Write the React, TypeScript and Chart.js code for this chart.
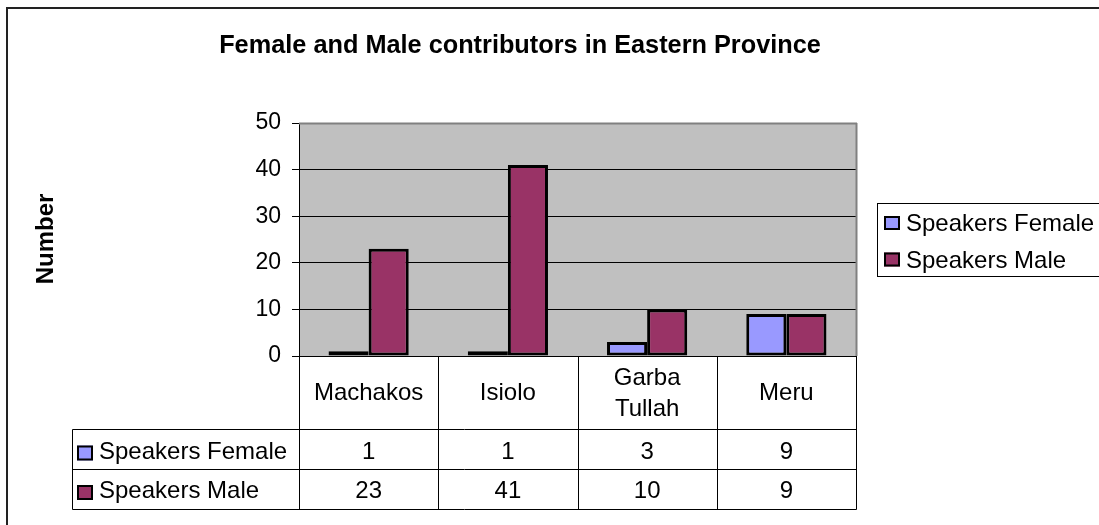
import { useEffect, useRef } from "react";
import { Chart, registerables } from "chart.js";

Chart.register(...registerables);

const chartTitle = "Female and Male contributors in Eastern Province";
const yAxisTitle = "Number";
const categories = ["Machakos", "Isiolo", "Garba Tullah", "Meru"];
const seriesNames = ["Speakers Female", "Speakers Male"];
const femaleValues = [1, 1, 3, 9];
const maleValues = [23, 41, 10, 9];
const yTickValues = [0, 10, 20, 30, 40, 50];
const seriesColors = ["#9999FF", "#993366"];

const FONT = '"Liberation Sans", Arial, Helvetica, sans-serif';

const seriesValues = [femaleValues, maleValues];

function wrapText(ctx: CanvasRenderingContext2D, text: string, maxW: number): string[] {
  const words = text.split(" ");
  const lines: string[] = [];
  let cur = "";
  for (const w of words) {
    const test = cur ? cur + " " + w : w;
    if (cur && ctx.measureText(test).width > maxW) {
      lines.push(cur);
      cur = w;
    } else {
      cur = test;
    }
  }
  if (cur) lines.push(cur);
  return lines;
}

function swatch(ctx: CanvasRenderingContext2D, x: number, y: number, w: number, h: number, color: string) {
  ctx.fillStyle = color;
  ctx.fillRect(x, y, w, h);
  ctx.strokeStyle = "#000";
  ctx.lineWidth = 2;
  ctx.strokeRect(x + 1, y + 1, w - 2, h - 2);
}

const decorPlugin = {
  id: "decor",
  beforeDraw(chart: any) {
    const ctx: CanvasRenderingContext2D = chart.ctx;
    const { left, top, right, bottom } = chart.chartArea;
    ctx.save();
    ctx.fillStyle = "#ffffff";
    ctx.fillRect(0, 0, chart.width, chart.height);
    ctx.fillStyle = "#C0C0C0";
    ctx.fillRect(left, top, right - left, bottom - top);
    ctx.restore();
  },
  afterDraw(chart: any) {
    const ctx: CanvasRenderingContext2D = chart.ctx;
    const { left, top, right, bottom } = chart.chartArea;
    const xs = chart.scales.x;
    ctx.save();

    // plot border (top / right gray)
    ctx.strokeStyle = "#808080";
    ctx.lineWidth = 2;
    ctx.beginPath();
    ctx.moveTo(left, top + 0.5);
    ctx.lineTo(right + 1, top + 0.5);
    ctx.moveTo(right + 0.5, top);
    ctx.lineTo(right + 0.5, bottom);
    ctx.stroke();

    // outer border
    ctx.strokeStyle = "#222";
    ctx.lineWidth = 2;
    ctx.strokeRect(7, 8, 1300, 700);

    // title
    ctx.fillStyle = "#000";
    ctx.font = `bold 25.3px ${FONT}`;
    ctx.textAlign = "center";
    ctx.textBaseline = "alphabetic";
    ctx.fillText(chartTitle, 520, 53);

    // y axis title
    ctx.save();
    ctx.translate(53, 239);
    ctx.rotate(-Math.PI / 2);
    ctx.font = `bold 24px ${FONT}`;
    ctx.textAlign = "center";
    ctx.fillText(yAxisTitle, 0, 0);
    ctx.restore();

    // legend
    ctx.strokeStyle = "#000";
    ctx.lineWidth = 1;
    ctx.strokeRect(877.5, 203.5, 400, 73);
    ctx.font = `24px ${FONT}`;
    ctx.textAlign = "left";
    const legendBase = [231, 267.5];
    seriesNames.forEach((name, i) => {
      swatch(ctx, 884, legendBase[i] - 15, 16, 14, seriesColors[i]);
      ctx.fillStyle = "#000";
      ctx.fillText(name, 906, legendBase[i]);
    });

    // data table
    const n = categories.length;
    const cw = (right - left) / n;
    const tableLeft = 72.5;
    const rowLines = [429.5, 469.5, 509.5];
    ctx.strokeStyle = "#000";
    ctx.lineWidth = 1;
    ctx.beginPath();
    rowLines.forEach((y) => {
      ctx.moveTo(tableLeft, y);
      ctx.lineTo(right + 0.5, y);
    });
    ctx.moveTo(tableLeft, rowLines[0]);
    ctx.lineTo(tableLeft, rowLines[2]);
    for (let i = 0; i <= n; i++) {
      const x = Math.round(left + i * cw) + 0.5;
      ctx.moveTo(x, bottom);
      ctx.lineTo(x, rowLines[2]);
    }
    ctx.stroke();

    ctx.font = `24px ${FONT}`;
    ctx.fillStyle = "#000";
    ctx.textAlign = "center";
    categories.forEach((cat, i) => {
      const cx = xs.getPixelForValue(i);
      const lines = wrapText(ctx, cat, cw - 12);
      lines.forEach((ln, k) => {
        const y = 400 + (k - (lines.length - 1) / 2) * 31;
        ctx.fillText(ln, cx, y);
      });
    });

    const rowBase = [458.5, 498];
    seriesNames.forEach((name, r) => {
      swatch(ctx, 77, rowBase[r] - 13, 16, 15, seriesColors[r]);
      ctx.fillStyle = "#000";
      ctx.textAlign = "left";
      ctx.fillText(name, 99, rowBase[r]);
      ctx.textAlign = "center";
      seriesValues[r].forEach((v, i) => {
        ctx.fillText(String(v), xs.getPixelForValue(i), rowBase[r]);
      });
    });

    ctx.restore();
  },
};

export default function App() {
  const canvasRef = useRef<HTMLCanvasElement | null>(null);

  useEffect(() => {
    if (!canvasRef.current) return;
    Chart.defaults.font.family = FONT;
    const chart = new Chart(canvasRef.current, {
      type: "bar",
      data: {
        labels: categories,
        datasets: seriesNames.map((name, i) => ({
          label: name,
          data: seriesValues[i],
          backgroundColor: seriesColors[i],
          borderColor: "#000",
          borderWidth: 3,
          borderSkipped: false,
          categoryPercentage: 0.576,
          barPercentage: 1,
        })),
      },
      options: {
        animation: false,
        responsive: false,
        devicePixelRatio: 1,
        layout: { padding: { left: 0, top: 123, right: 243, bottom: 169 } },
        plugins: {
          legend: { display: false },
          title: { display: false },
          tooltip: { enabled: false },
        },
        scales: {
          x: {
            type: "category",
            display: false,
          },
          y: {
            min: yTickValues[0],
            max: yTickValues[yTickValues.length - 1],
            afterBuildTicks: (scale: any) => {
              scale.ticks = yTickValues.map((v) => ({ value: v }));
            },
            afterFit: (scale: any) => {
              scale.width = 299;
            },
            ticks: {
              color: "#000",
              padding: 11,
              font: { size: 23, family: FONT },
            },
            grid: {
              color: "#000",
              lineWidth: 1,
              tickLength: 7,
              drawTicks: true,
            },
            border: { display: true, color: "#000", width: 1 },
          },
        },
      },
      plugins: [decorPlugin],
    });
    return () => chart.destroy();
  }, []);

  return (
    <div style={{ position: "absolute", left: 0, top: 0, width: 1099, height: 525 }}>
      <canvas ref={canvasRef} width={1099} height={525} />
    </div>
  );
}
